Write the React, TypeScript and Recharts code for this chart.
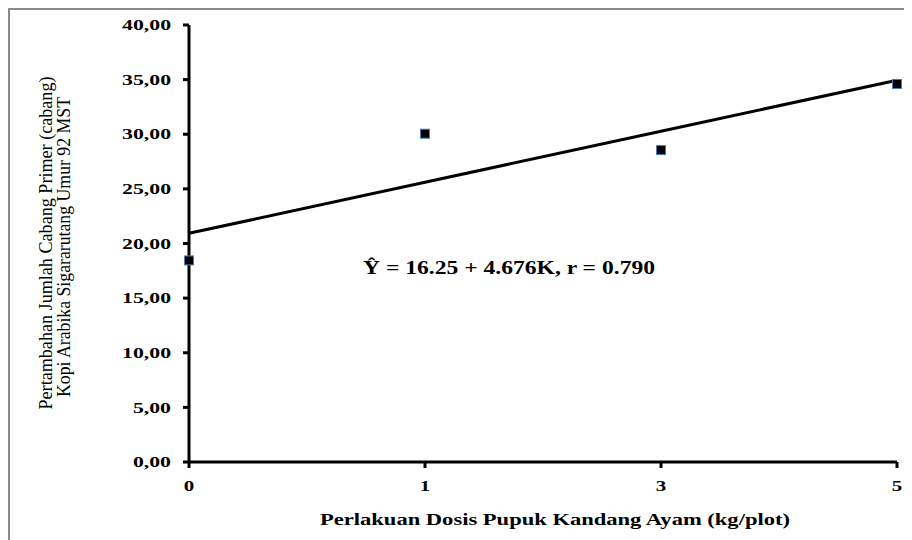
import React from "react";
import { ComposedChart, Line, XAxis, YAxis } from "recharts";

const doses = ["0", "1", "3", "5"];
const observed = [18.45, 30.05, 28.55, 34.6];
const fitted = [20.93, 25.6, 30.28, 34.95];
const yTicks = [0, 5, 10, 15, 20, 25, 30, 35, 40];

const yTitle1 = "Pertambahan Jumlah Cabang Primer (cabang)";
const yTitle2 = "Kopi Arabika Sigararutang Umur 92 MST";
const xTitle = "Perlakuan Dosis Pupuk Kandang Ayam (kg/plot)";
const equation = "\u0176 = 16.25 + 4.676K, r = 0.790";

const data = doses.map((d, i) => ({ dose: d, obs: observed[i], fit: fitted[i] }));

const FONT = "Liberation Serif";

const YTick = (props: any) => {
  const { x, y, payload } = props;
  const label = payload.value.toFixed(2).replace(".", ",");
  return (
    <text
      transform={`translate(${x},${y}) scale(1.45,1)`}
      textAnchor="end"
      dominantBaseline="central"
      style={{ fontFamily: FONT, fontWeight: 700, fontSize: 15 }}
      fill="#000"
    >
      {label}
    </text>
  );
};

const XTick = (props: any) => {
  const { x, y, payload } = props;
  return (
    <text
      transform={`translate(${x},${y + 18}) scale(1.4,1)`}
      textAnchor="middle"
      dominantBaseline="central"
      style={{ fontFamily: FONT, fontWeight: 700, fontSize: 15 }}
      fill="#000"
    >
      {payload.value}
    </text>
  );
};

const SquareDot = (props: any) => {
  const { cx, cy } = props;
  if (cx == null || cy == null) return null;
  return (
    <rect
      x={cx - 4.5}
      y={cy - 4.5}
      width={9}
      height={9}
      fill="#000"
      stroke="#4a7ebb"
      strokeWidth={1}
    />
  );
};

export default function App() {
  return (
    <div
      style={{
        position: "relative",
        width: 904,
        height: 532,
        borderTop: "2px solid #8a8a8a",
        borderLeft: "2px solid #8a8a8a",
        boxSizing: "border-box",
        background: "#fff",
        fontFamily: FONT,
      }}
    >
      <div style={{ position: "absolute", left: 0, top: 0 }}>
        <ComposedChart
          width={902}
          height={530}
          data={data}
          margin={{ top: 15, right: 15, bottom: 38, left: 99 }}
        >
          <XAxis
            dataKey="dose"
            scale="point"
            padding={{ left: 0, right: 0 }}
            axisLine={{ stroke: "#000", strokeWidth: 3 }}
            tickLine={{ stroke: "#000", strokeWidth: 3 }}
            tickSize={6}
            tickMargin={0}
            height={40}
            tick={<XTick />}
            interval={0}
          />
          <YAxis
            domain={[0, 40]}
            ticks={yTicks}
            type="number"
            axisLine={{ stroke: "#000", strokeWidth: 3 }}
            tickLine={{ stroke: "#000", strokeWidth: 3 }}
            tickSize={6}
            tickMargin={12}
            width={80}
            tick={<YTick />}
            interval={0}
          />
          <Line
            dataKey="fit"
            stroke="#000"
            strokeWidth={3}
            dot={false}
            activeDot={false}
            type="linear"
            isAnimationActive={false}
          />
          <Line
            dataKey="obs"
            stroke="none"
            strokeWidth={0}
            dot={<SquareDot />}
            activeDot={false}
            type="linear"
            isAnimationActive={false}
          />
        </ComposedChart>
      </div>
      <svg
        width={902}
        height={530}
        style={{ position: "absolute", left: 0, top: 0, pointerEvents: "none" }}
      >
        <text
          transform="translate(36,233) rotate(-90)"
          textAnchor="middle"
          dominantBaseline="central"
          style={{ fontFamily: FONT, fontSize: 18 }}
          textLength={333}
          lengthAdjust="spacingAndGlyphs"
          fill="#000"
        >
          {yTitle1}
        </text>
        <text
          transform="translate(54,237) rotate(-90)"
          textAnchor="middle"
          dominantBaseline="central"
          style={{ fontFamily: FONT, fontSize: 18 }}
          textLength={300}
          lengthAdjust="spacingAndGlyphs"
          fill="#000"
        >
          {yTitle2}
        </text>
        <text
          x={310}
          y={509}
          dominantBaseline="central"
          style={{ fontFamily: FONT, fontWeight: 700, fontSize: 17 }}
          textLength={470}
          lengthAdjust="spacingAndGlyphs"
          fill="#000"
        >
          {xTitle}
        </text>
        <text
          x={353}
          y={258}
          dominantBaseline="central"
          style={{ fontFamily: FONT, fontWeight: 700, fontSize: 18 }}
          textLength={292}
          lengthAdjust="spacingAndGlyphs"
          fill="#000"
        >
          {equation}
        </text>
      </svg>
    </div>
  );
}
